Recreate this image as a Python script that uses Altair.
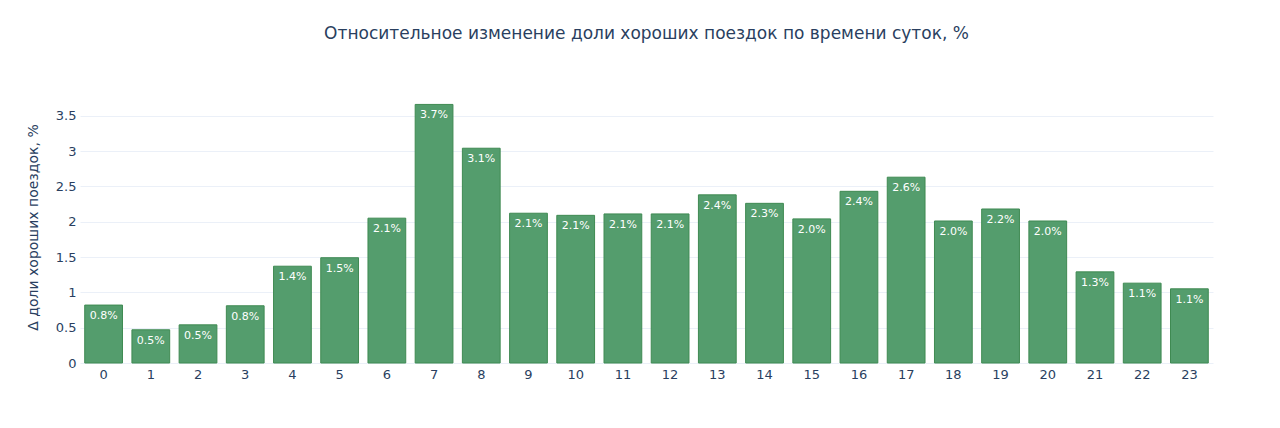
import altair as alt
import pandas as pd

hours = [str(h) for h in range(24)]
values = [0.82, 0.47, 0.54, 0.81, 1.37, 1.49, 2.05, 3.66, 3.04, 2.12, 2.09, 2.11,
          2.11, 2.38, 2.26, 2.04, 2.43, 2.63, 2.01, 2.18, 2.01, 1.29, 1.13, 1.05]
labels = ["0.8%", "0.5%", "0.5%", "0.8%", "1.4%", "1.5%", "2.1%", "3.7%", "3.1%", "2.1%",
          "2.1%", "2.1%", "2.1%", "2.4%", "2.3%", "2.0%", "2.4%", "2.6%", "2.0%", "2.2%",
          "2.0%", "1.3%", "1.1%", "1.1%"]
y_ticks = [0, 0.5, 1, 1.5, 2, 2.5, 3, 3.5]

df = pd.DataFrame({"hour": hours, "value": values, "label": labels})

FONT = "DejaVu Sans"
TXT = "#2a3f5f"

x = alt.X("hour:N", sort=hours, title=None,
          scale=alt.Scale(paddingInner=0.2, paddingOuter=0.1),
          axis=alt.Axis(labelAngle=0, domain=False, ticks=False, labelPadding=5,
                        labelFontSize=13, labelColor=TXT, labelFont=FONT))
y = alt.Y("value:Q", title="Δ доли хороших поездок, %",
          scale=alt.Scale(domain=[0, 3.85], nice=False, zero=True),
          axis=alt.Axis(values=y_ticks, format="~g", domain=False, ticks=False,
                        labelOverlap=False, labelFlush=False,
                        labelPadding=4, labelFontSize=13, labelColor=TXT, labelFont=FONT,
                        titleFontSize=14, titleFont=FONT, titleColor=TXT,
                        titleFontWeight="normal", titlePadding=15,
                        gridColor="#EBF0F8", gridWidth=1))

bars = alt.Chart(df).mark_bar(color="#549d6d", stroke="#3f8a52", strokeWidth=1,
                              opacity=1).encode(x=x, y=y)
text = alt.Chart(df).mark_text(color="white", baseline="top", dy=5, fontSize=11,
                               font=FONT).encode(x=x, y=y, text="label:N")

chart = (bars + text).properties(
    width=1133, height=272,
    background="white",
    title=alt.TitleParams("Относительное изменение доли хороших поездок по времени суток, %",
                          fontSize=17, font=FONT, color=TXT, fontWeight="normal",
                          anchor="middle", offset=48),
    padding={"left": 72, "top": 83, "right": 59, "bottom": 57},
    autosize=alt.AutoSizeParams(type="none"),
).configure_view(stroke="transparent", strokeWidth=0)

chart.save("out.html", embed_options={"renderer": "svg", "actions": False})
